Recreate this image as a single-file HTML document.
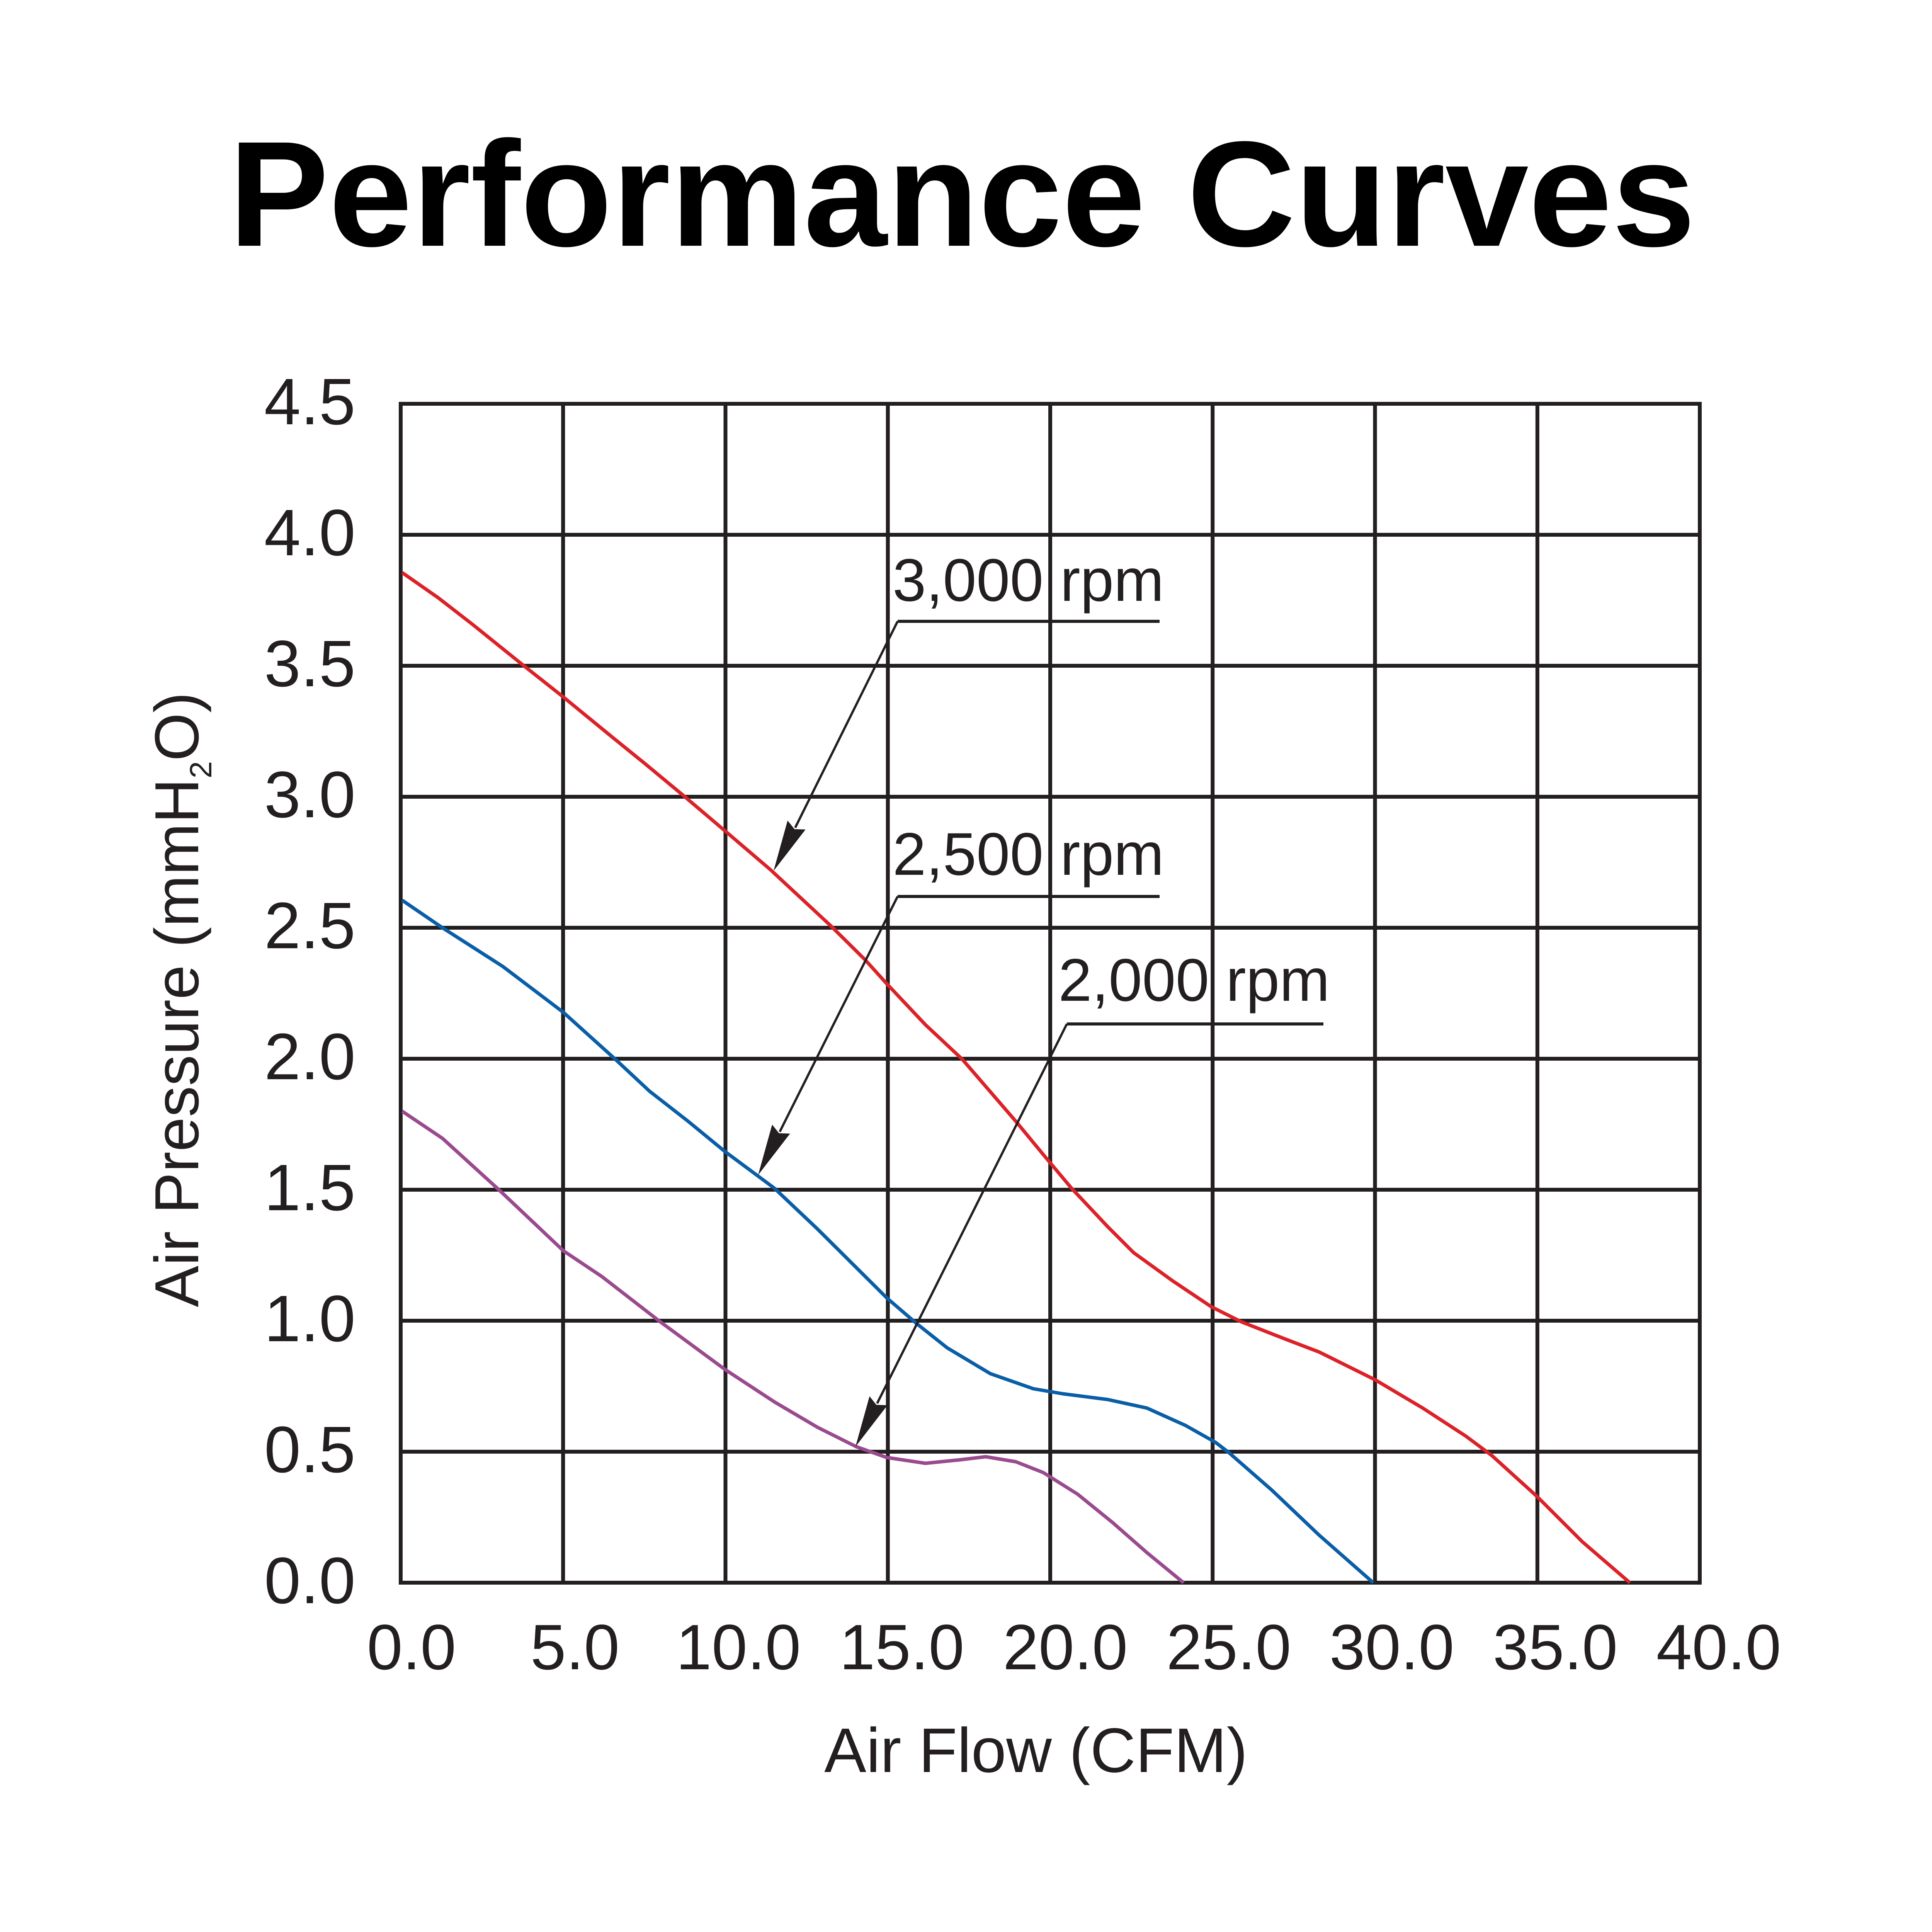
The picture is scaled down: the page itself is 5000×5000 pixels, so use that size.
<!DOCTYPE html>
<html>
<head>
<meta charset="utf-8">
<style>
  html, body { margin: 0; padding: 0; background: #ffffff; }
  svg { display: block; }
  text { font-family: "Liberation Sans", Arial, sans-serif; fill: #231f20; }
</style>
</head>
<body>
<svg width="5000" height="5000" viewBox="0 0 5000 5000" xmlns="http://www.w3.org/2000/svg">
  <rect x="0" y="0" width="5000" height="5000" fill="#ffffff"/>

  <!-- Title -->
  <text x="2490" y="636" font-size="388" font-weight="bold" text-anchor="middle" style="fill:#000">Performance Curves</text>

  <!-- Grid -->
  <g stroke="#231f20" stroke-width="10" fill="none">
    <line x1="1457.25" y1="1045" x2="1457.25" y2="4096"/>
    <line x1="1877.5" y1="1045" x2="1877.5" y2="4096"/>
    <line x1="2297.75" y1="1045" x2="2297.75" y2="4096"/>
    <line x1="2718" y1="1045" x2="2718" y2="4096"/>
    <line x1="3138.25" y1="1045" x2="3138.25" y2="4096"/>
    <line x1="3558.5" y1="1045" x2="3558.5" y2="4096"/>
    <line x1="3978.75" y1="1045" x2="3978.75" y2="4096"/>
    <line x1="1037" y1="1384" x2="4399" y2="1384"/>
    <line x1="1037" y1="1723" x2="4399" y2="1723"/>
    <line x1="1037" y1="2062" x2="4399" y2="2062"/>
    <line x1="1037" y1="2401" x2="4399" y2="2401"/>
    <line x1="1037" y1="2740" x2="4399" y2="2740"/>
    <line x1="1037" y1="3079" x2="4399" y2="3079"/>
    <line x1="1037" y1="3418" x2="4399" y2="3418"/>
    <line x1="1037" y1="3757" x2="4399" y2="3757"/>
    <rect x="1037" y="1045" width="3362" height="3051"/>
  </g>

  <!-- Y tick labels -->
  <g font-size="170" text-anchor="end">
    <text x="920" y="1098">4.5</text>
    <text x="920" y="1437">4.0</text>
    <text x="920" y="1776">3.5</text>
    <text x="920" y="2115">3.0</text>
    <text x="920" y="2454">2.5</text>
    <text x="920" y="2793">2.0</text>
    <text x="920" y="3132">1.5</text>
    <text x="920" y="3471">1.0</text>
    <text x="920" y="3810">0.5</text>
    <text x="920" y="4149">0.0</text>
  </g>

  <!-- X tick labels -->
  <g font-size="166" text-anchor="middle">
    <text x="1065" y="4320">0.0</text>
    <text x="1488" y="4320">5.0</text>
    <text x="1911" y="4320">10.0</text>
    <text x="2334" y="4320">15.0</text>
    <text x="2757" y="4320">20.0</text>
    <text x="3180" y="4320">25.0</text>
    <text x="3602" y="4320">30.0</text>
    <text x="4025" y="4320">35.0</text>
    <text x="4448" y="4320">40.0</text>
  </g>

  <!-- Axis titles -->
  <text x="2681" y="4586" font-size="163" text-anchor="middle">Air Flow (CFM)</text>
  <text transform="translate(513,2587) rotate(-90)" x="0" y="0" font-size="161" text-anchor="middle">Air Pressure (mmH<tspan font-size="80" dy="34">2</tspan><tspan dy="-34">O)</tspan></text>

  <!-- Curves -->
  <g fill="none" stroke-width="9" stroke-linejoin="round" stroke-linecap="butt">
    <polyline stroke="#dc2229" points="1041,1482 1134,1547 1223,1616 1352,1720 1458,1804 1580,1904 1670,1977 1770,2060 1876,2150 1993,2250 2149,2395 2239,2484 2295,2546 2395,2652 2490,2741 2629,2902 2700,2988 2773,3075 2867,3175 2934,3242 3035,3315 3135,3382 3213,3421 3325,3465 3414,3499 3559,3571 3682,3644 3794,3717 3861,3767 3978,3873 4095,3990 4218,4096"/>
    <polyline stroke="#0a5ea8" points="1041,2330 1145,2401 1301,2501 1458,2620 1591,2740 1681,2824 1781,2902 1876,2980 2004,3075 2116,3181 2295,3359 2373,3426 2451,3488 2563,3555 2674,3594 2750,3607 2867,3622 2968,3644 3068,3689 3146,3733 3180,3759 3291,3856 3414,3973 3554,4096"/>
    <polyline stroke="#9a4a8e" points="1041,2876 1145,2946 1290,3078 1458,3237 1558,3304 1709,3421 1876,3544 2004,3628 2116,3694 2216,3744 2295,3772 2395,3787 2484,3778 2551,3770 2629,3783 2700,3811 2789,3867 2879,3940 2968,4018 3063,4096"/>
  </g>

  <!-- Annotations -->
  <g font-size="156">
    <text x="2310" y="1555">3,000 rpm</text>
    <text x="2310" y="2264">2,500 rpm</text>
    <text x="2739" y="2590">2,000 rpm</text>
  </g>
  <g stroke="#231f20" stroke-width="8" fill="none">
    <line x1="2323" y1="1608" x2="3001" y2="1608"/>
    <line x1="2323" y1="2320" x2="3001" y2="2320"/>
    <line x1="2761" y1="2650" x2="3425" y2="2650"/>
  </g>
  <g stroke="#231f20" stroke-width="6" fill="none">
    <line x1="2323" y1="1608" x2="2058" y2="2142"/>
    <line x1="2323" y1="2320" x2="2018" y2="2929"/>
    <line x1="2761" y1="2650" x2="2270" y2="3632"/>
  </g>
  <g fill="#231f20" stroke="none">
    <polygon points="2002,2254 2084.7,2146.7 2056.1,2145.8 2038.3,2123.5"/>
    <polygon points="1962,3041 2044.7,2933.7 2016.1,2932.8 1998.3,2910.5"/>
    <polygon points="2214,3744 2296.7,3636.7 2268.1,3635.8 2250.3,3613.5"/>
  </g>
</svg>
</body>
</html>
